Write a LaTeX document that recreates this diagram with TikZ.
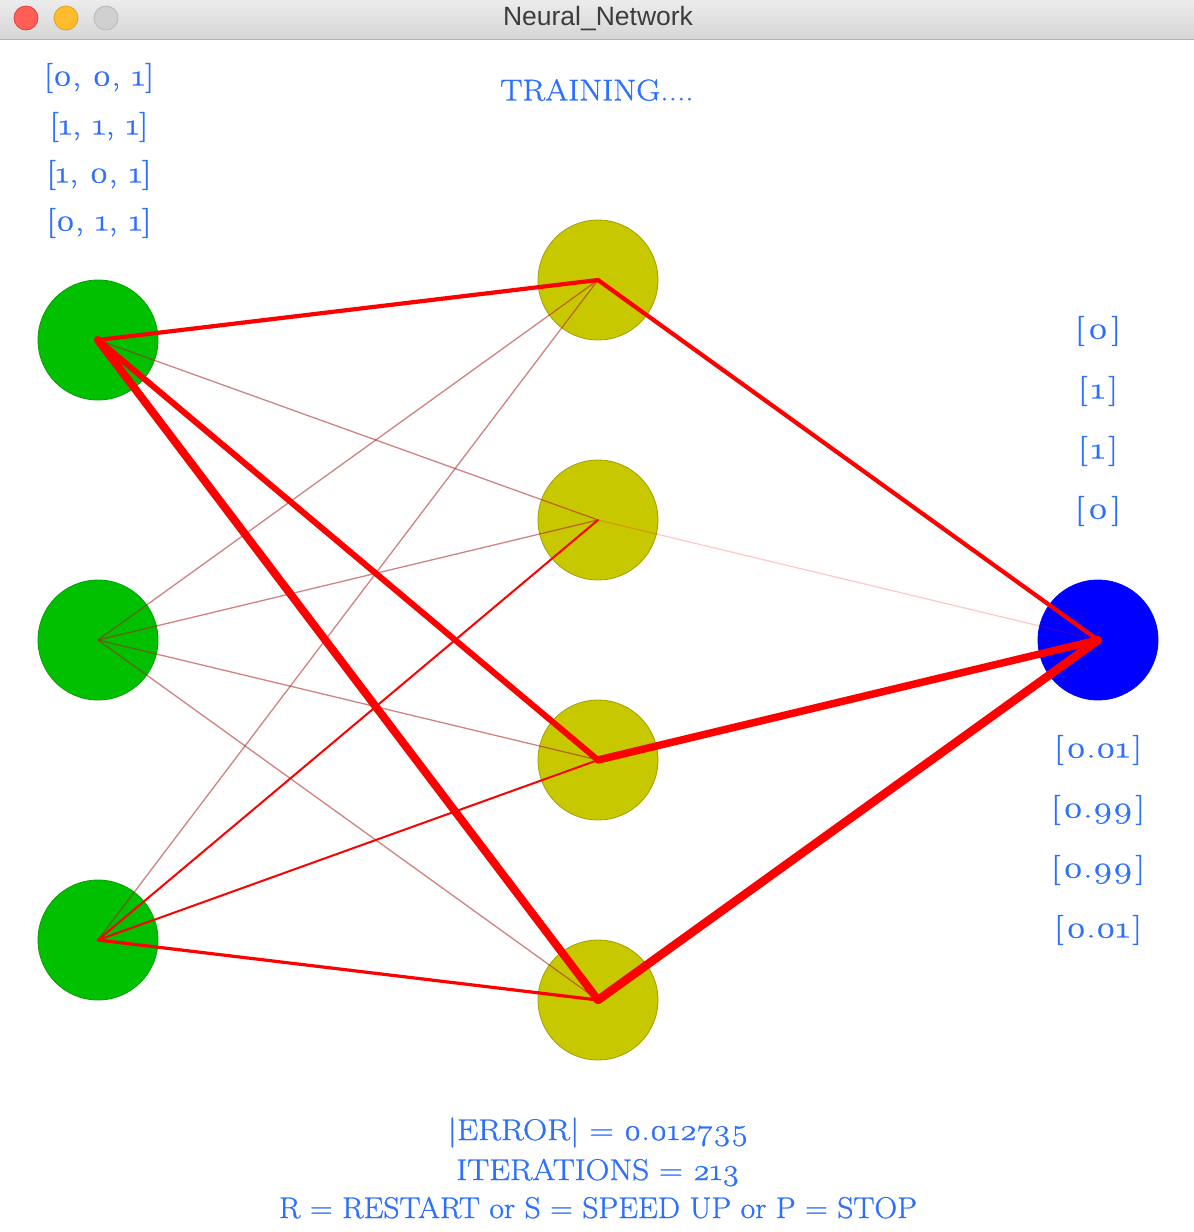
\documentclass[tikz,border=0pt]{standalone}
\usepackage{fontspec}
\usepackage{graphicx}
\setmainfont{Latin Modern Roman}[Numbers=OldStyle]
\newfontfamily\geo{Latin Modern Roman}[Numbers=OldStyle, FakeBold=0.9]
\newfontfamily\uifont{Liberation Sans}
\newcommand\hsc[2]{\scalebox{#1}[1]{#2}}
\definecolor{txtblue}{RGB}{45,112,255}
\definecolor{ingreen}{RGB}{0,192,0}
\definecolor{ingreenb}{RGB}{0,160,0}
\definecolor{hidyel}{RGB}{200,200,0}
\definecolor{hidyelb}{RGB}{160,160,0}
\definecolor{outblue}{RGB}{0,0,255}
\definecolor{tbtop}{RGB}{236,236,236}
\definecolor{tbbot}{RGB}{214,214,214}
\definecolor{tbline}{RGB}{178,178,178}
\definecolor{tlred}{RGB}{255,95,87}
\definecolor{tlredb}{RGB}{224,68,62}
\definecolor{tlyel}{RGB}{255,189,46}
\definecolor{tlyelb}{RGB}{222,161,35}
\definecolor{tlgray}{RGB}{208,208,208}
\definecolor{tlgrayb}{RGB}{184,184,184}
\definecolor{titlegray}{RGB}{60,60,60}
\definecolor{wred}{RGB}{255,0,0}
\definecolor{wdark}{RGB}{170,30,30}
\tikzset{
  neuron/.style={circle, minimum size=120pt, inner sep=0pt, line width=0.8pt},
  innode/.style={neuron, fill=ingreen, draw=ingreenb},
  hidnode/.style={neuron, fill=hidyel, draw=hidyelb},
  outnode/.style={neuron, fill=outblue, draw=outblue},
  lbl/.style={text=txtblue, inner sep=0pt, font=\geo\fontsize{30}{36}\selectfont},
  botlbl/.style={text=txtblue, inner sep=0pt, anchor=base, font=\geo\fontsize{30}{36}\selectfont},
  light/.style={line width=1.3pt, draw=wdark, draw opacity=0.55},
  faint/.style={line width=1.2pt, draw=wred, draw opacity=0.22},
  wline/.style={draw=wred, line cap=round, line join=round},
  trafl/.style={circle, minimum size=24pt, inner sep=0pt, line width=0.8pt}
}
\begin{document}
\begin{tikzpicture}[x=1pt, y=-1pt]
\useasboundingbox (0,0) rectangle (1194,1232);
\fill[white] (0,0) rectangle (1194,1232);
% title bar
\shade[top color=tbtop, bottom color=tbbot] (0,0) rectangle (1194,39);
\draw[tbline, line width=1.2pt] (0,39.4) -- (1194,39.4);
\node[trafl, fill=tlred, draw=tlredb] (close) at (26,18) {};
\node[trafl, fill=tlyel, draw=tlyelb] (mini) at (66,18) {};
\node[trafl, fill=tlgray, draw=tlgrayb] (zoomb) at (106,18) {};
\node[text=titlegray, font=\uifont\fontsize{26.5}{30}\selectfont, inner sep=0pt] (title) at (598,19) {Neural\_Network};

% neurons
\node[innode] (i1) at (98,340) {};
\node[innode] (i2) at (98,640) {};
\node[innode] (i3) at (98,940) {};
\node[hidnode] (h1) at (598,280) {};
\node[hidnode] (h2) at (598,520) {};
\node[hidnode] (h3) at (598,760) {};
\node[hidnode] (h4) at (598,1000) {};
\node[outnode] (o) at (1098,640) {};

% weights input -> hidden
\draw[light] (i1.center) -- (h2.center);
\draw[light] (i2.center) -- (h1.center);
\draw[light] (i2.center) -- (h2.center);
\draw[light] (i2.center) -- (h3.center);
\draw[light] (i2.center) -- (h4.center);
\draw[light] (i3.center) -- (h1.center);
\draw[wline, line width=2pt] (i3.center) -- (h2.center);
\draw[wline, line width=2pt] (i3.center) -- (h3.center);
\draw[wline, line width=3.2pt] (i3.center) -- (h4.center);
\draw[wline, line width=4.2pt] (i1.center) -- (h1.center);
\draw[wline, line width=6pt] (i1.center) -- (h3.center);
\draw[wline, line width=8pt] (i1.center) -- (h4.center);
% weights hidden -> output
\draw[faint] (h2.center) -- (o.center);
\draw[wline, line width=4.2pt] (h1.center) -- (o.center);
\draw[wline, line width=7.5pt] (h3.center) -- (o.center);
\draw[wline, line width=8.5pt] (h4.center) -- (o.center);

% input patterns
\node[lbl] (in1) at (99,78) {\hsc{1.22}{[0, 0, 1]}};
\node[lbl] (in2) at (99,127) {\hsc{1.22}{[1, 1, 1]}};
\node[lbl] (in3) at (99,175) {\hsc{1.22}{[1, 0, 1]}};
\node[lbl] (in4) at (99,223) {\hsc{1.22}{[0, 1, 1]}};
% heading
\node[lbl] (train) at (597,90) {\hsc{1.11}{TRAINING....}};
% targets
\node[lbl] (t1) at (1098,331) {\hsc{1.3}{[\kern2.5pt0\kern2.5pt]}};
\node[lbl] (t2) at (1098,391) {\hsc{1.3}{[\kern2.5pt1\kern2.5pt]}};
\node[lbl] (t3) at (1098,451) {\hsc{1.3}{[\kern2.5pt1\kern2.5pt]}};
\node[lbl] (t4) at (1098,511) {\hsc{1.3}{[\kern2.5pt0\kern2.5pt]}};
% outputs
\node[lbl] (p1) at (1098,750) {\hsc{1.28}{[\kern2pt0.01\kern2pt]}};
\node[lbl] (p2) at (1098,810) {\hsc{1.28}{[\kern2pt0.99\kern2pt]}};
\node[lbl] (p3) at (1098,870) {\hsc{1.28}{[\kern2pt0.99\kern2pt]}};
\node[lbl] (p4) at (1098,930) {\hsc{1.28}{[\kern2pt0.01\kern2pt]}};
% status
\node[botlbl] (err) at (598,1140) {\hsc{1.12}{|ERROR| = 0.012735}};
\node[botlbl] (iter) at (598,1180) {\hsc{1.1}{ITERATIONS = 213}};
\node[botlbl] (keys) at (598,1218) {\hsc{1.05}{R = RESTART or S = SPEED UP or P = STOP}};
\end{tikzpicture}
\end{document}
